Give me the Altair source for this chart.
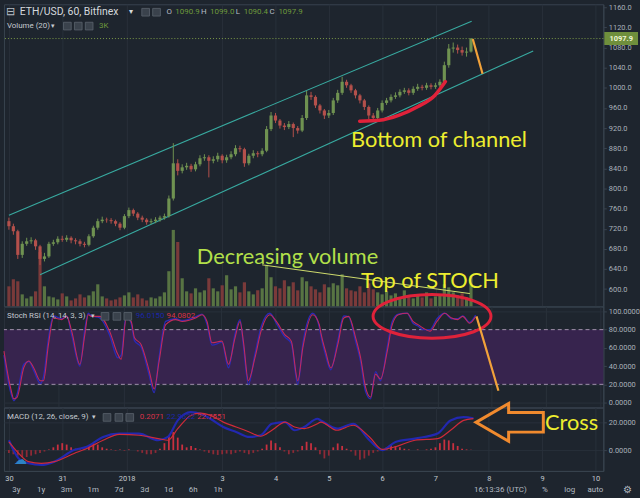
import altair as alt
import pandas as pd

# ------------------------------------------------------------------ data
# 2-hour candles, hour 0 = start of Dec 30
close = [725, 715, 668, 690, 695, 697, 685, 660, 665, 690,
         693, 700, 698, 702, 697, 695, 690, 688, 705, 722,
         735, 738, 737, 735, 730, 722, 745, 757, 750, 742,
         738, 733, 735, 738, 742, 745, 780, 850, 835, 842,
         845, 838, 848, 860, 862, 855, 858, 865, 856, 862,
         868, 880, 878, 850, 865, 870, 868, 875, 918, 945,
         935, 925, 922, 928, 920, 915, 940, 985, 982, 965,
         955, 945, 950, 975, 990, 1012, 1005, 995, 985, 975,
         962, 945, 940, 955, 970, 975, 982, 985, 992, 995,
         990, 998, 1002, 1000, 1005, 1002, 1005, 1012, 1045, 1078,
         1080, 1075, 1070, 1072, 1097.9]
first_open = 735
high = [742, 730, 718, 695, 702, 703, 700, 688, 672, 694,
        698, 705, 706, 707, 705, 701, 699, 694, 709, 726,
        740, 744, 742, 741, 738, 733, 749, 762, 760, 753,
        746, 741, 740, 743, 746, 750, 786, 890, 858, 848,
        851, 849, 853, 866, 868, 866, 864, 871, 868, 867,
        874, 886, 885, 881, 869, 876, 874, 880, 924, 952,
        950, 938, 930, 934, 931, 924, 946, 994, 992, 985,
        968, 958, 956, 980, 996, 1022, 1016, 1008, 998, 988,
        978, 965, 950, 960, 975, 980, 987, 991, 997, 1000,
        999, 1003, 1008, 1006, 1010, 1009, 1010, 1017, 1052, 1087,
        1090, 1086, 1082, 1080, 1099]
low = [718, 708, 660, 662, 686, 690, 678, 648, 655, 662,
       686, 689, 694, 694, 691, 689, 685, 683, 685, 702,
       718, 731, 732, 730, 725, 717, 719, 741, 745, 737,
       733, 728, 729, 731, 734, 738, 742, 776, 826, 830,
       837, 833, 834, 844, 855, 822, 850, 853, 850, 851,
       858, 864, 872, 843, 846, 860, 862, 864, 872, 914,
       930, 919, 916, 918, 902, 909, 912, 936, 976, 960,
       949, 938, 940, 946, 970, 986, 1000, 990, 979, 969,
       956, 938, 933, 936, 951, 966, 971, 978, 981, 988,
       985, 986, 994, 995, 996, 997, 998, 1001, 1008, 1040,
       1070, 1068, 1064, 1062, 1070]
volume_k = [2.0, 2.7, 2.5, 1.2, 0.8, 1.0, 1.5, 5.4, 2.0, 1.0,
            0.9, 0.7, 1.3, 1.0, 0.6, 0.8, 1.2, 0.9, 1.1, 1.5,
            2.2, 1.0, 0.8, 0.6, 0.7, 0.9, 1.1, 1.4, 0.9, 1.2,
            0.8, 0.6, 0.9, 0.8, 1.0, 1.4, 3.5, 7.6, 6.4, 2.8,
            1.5, 1.3, 1.8, 1.4, 1.6, 2.8, 1.8, 1.5, 2.1, 3.1,
            1.7, 2.0, 1.4, 2.4, 1.5, 1.2, 1.6, 1.8, 4.1, 2.9,
            2.0, 1.8, 2.6, 2.0, 2.4, 1.6, 2.9, 2.5, 2.0, 1.7,
            1.4, 2.2, 1.9, 2.3, 2.1, 3.2, 1.8, 1.6, 1.5, 2.0,
            1.4, 2.3, 1.7, 1.4, 1.2, 1.5, 1.1, 1.3, 0.9, 1.6,
            1.0, 0.8, 1.2, 0.9, 1.4, 0.8, 1.0, 1.2, 2.2, 1.9,
            1.4, 1.1, 1.3, 0.9, 3.0]
macd_hist = [-2, -3, -4, -5, -5, -4, -3, -2, -1, 0.5,
             2, 4, 5, 4, 2, 1, 0.5, 1, 3, 5,
             4, 2, 1, 0.5, -0.5, 0.5, -0.5, 0.5, 0, -1,
             -2, -3, -3, -2, 1, 5, 10, 13, 9, 4,
             2, 3, 1.5, 0.5, -1, -2, -3, -3.5, -3, -2.5,
             -3, -2, -1, -2, -3, -2, -1, 1, 4, 7,
             5, 2, -1, -3, -2, -1, 3, 6, 5, 2,
             -3, -6, -4, 2, 4.8, 3, 1, -1, -4, -7,
             -6, -4, -2, -1, 0.5, 2, 4, 3, 2, 1,
             0.5, 0, 0.5, 0, 0.5, 1, 2, 5, 7.6, 7,
             5, 3, 1, 0.5, 0.2071]

stoch_t = [0.0, 2.9, 4.4, 5.8, 8.8, 11.0, 13.2, 16.1, 17.5, 19.7,
           21.9, 25.6, 27.8, 30.0, 33.6, 35.8, 37.3, 38.7, 42.4, 46.8,
           50.4, 51.9, 54.1, 56.3, 57.8, 60.7, 64.3, 66.5, 68.7, 71.6,
           76.0, 78.9, 84.8, 87.7, 89.9, 92.1, 96.5, 99.4, 102.3, 104.5,
           106.0, 108.2, 111.1, 114.0, 117.7, 120.6, 124.3, 127.2, 130.1, 132.3,
           136.7, 139.6, 140.4, 142.5, 144.7, 147.8, 150.4, 152.6, 155.7, 157.9,
           160.1, 162.3, 164.5, 166.7, 169.7, 171.9, 174.6, 178.5, 181.1, 183.3,
           185.5, 188.6, 191.7, 195.2, 198.2, 200.9, 203.1, 206.1, 208.8]
stoch_k = [52, 12, 2, 9, 42, 45, 35, 21, 28, 70,
           95, 92, 95, 74, 40, 80, 98, 95, 93, 74,
           49, 52, 95, 87, 68, 61, 30, 11, 50, 89,
           92, 90, 94, 97, 86, 63, 66, 38, 75, 91,
           63, 20, 53, 84, 98, 87, 72, 65, 20, 64,
           98, 83, 72, 51, 36, 68, 95, 94, 67, 45,
           12, 4, 34, 24, 61, 89, 97, 98, 87, 84,
           80, 80, 92, 98, 92, 92, 95, 88, 96.0150]
stoch_d = [56.5, 16.6, 4, 5.8, 38.4, 45.6, 38, 23.9, 24, 63.8,
           92.7, 91, 94.6, 78, 42, 74.6, 96.4, 94.6, 94.6, 78,
           52.9, 47.5, 92.7, 89, 71, 63.8, 34.8, 14.9, 45.6, 85.5,
           91, 89, 92.7, 96.4, 89, 65.6, 67.4, 42, 71, 89,
           67, 24, 49, 80, 96.4, 89, 74.6, 67.4, 24, 60,
           96.4, 85.5, 75, 55, 38, 63.8, 92.7, 94.6, 71, 49,
           16.6, 5.8, 31.2, 25.8, 56.5, 85.5, 96.4, 98, 89, 85.5,
           81.9, 78.3, 89, 98, 92.7, 91, 94.6, 87, 94.0802]

macd_t = [0, 4.4, 8.8, 14.6, 20.5, 29.3, 35.1, 42.4, 49.7, 58.5,
          67.2, 71.6, 76.0, 81.9, 86.3, 90.7, 96.5, 102.3, 108.2, 113.3,
          118.4, 124.3, 128.6, 133.0, 138.9, 140.4, 147.7, 155.0, 162.3, 168.1,
          174.0, 182.8, 193.0, 198.8, 204.7, 209.1]
macd_line = [7.1, -6, -9.5, -10.7, -8.3, 0, 2.4, 9.5, 11.9, 11.9,
             7.1, 9.5, 21.4, 27.4, 26.2, 22.6, 16.7, 13.1, 9.5, 10.7,
             19, 20.2, 14.3, 16.7, 22.6, 21.4, 15.5, 19, 7.1, 0,
             5.9, 8.3, 11.9, 21.4, 23.8, 22.9622]
macd_signal = [5.9, -2.4, -8.3, -9.5, -8.3, -2.4, 1.2, 7.1, 11.4, 10.7,
               8.3, 7.1, 15.5, 25, 26.7, 25, 20.2, 16.7, 13.1, 10,
               14.3, 20.2, 16.7, 15.5, 19, 20.2, 14.3, 17.9, 9.5, 0.5,
               2.4, 7.1, 8.3, 14.3, 21.4, 22.7551]

price_ticks = [600, 640, 680, 720, 760, 800, 840, 880, 920, 960, 1000, 1040, 1080, 1120, 1160]
stoch_ticks = [0, 20, 40, 60, 80, 100]
macd_ticks = [0, 20]
day_ticks = [0, 24, 53, 96, 120, 144, 168, 192, 216, 240, 264]
day_labels = ["30", "31", "2018", "3", "4", "5", "6", "7", "8", "9", "10"]
header_ohlc = ["1090.9", "1099.0", "1090.4", "1097.9"]

# hand-drawn annotations (hours, value)
chan_up_t, chan_up_p = [0, 208.3], [746.6, 1132.4]
chan_lo_t, chan_lo_p = [14.0, 236.0], [628.5, 1073.4]
arc_t = [157.9, 166.7, 175.4, 184.2, 191.7, 196.5]
arc_p = [933.6, 935.6, 945.4, 963.1, 984.8, 1012.4]
orange_p_t, orange_p_v = [208.8, 213.2], [1097, 1028]
orange_s_t, orange_s_v = [209.2, 218.9], [94.6, 13.0]
decvol_t, decvol_p = [114.0, 207.5], [648.2, 591.1]

# ------------------------------------------------------------------ style
BG = "#1e252e"
GRID = "#28313b"
BORDER = "#39434f"
LABEL = "#a9b1ba"
UP, DOWN = "#6f9251", "#b4504b"
VUP, VDOWN = "#587443", "#7a3a3a"
TEAL = "#38aaa0"
YELLOW = "#eded2f"
LIME = "#b3e04a"
ORANGE = "#f2a23a"
ARROW = "#f08a2e"
RED_MARK = "#e0223a"
PURPLE = "#37244e"
GREEN_TXT = "#6e9a3c"
UI = "#c5cad0"
W, H_PRICE, H_STOCH, H_MACD = 605, 305, 102, 64

XS = alt.Scale(domain=[0, 265.35], nice=False, zero=False)
grid_axis = alt.Axis(values=day_ticks, labels=False, ticks=False, domain=False, grid=True, title=None)
label_expr = " : ".join(f"datum.value == {v} ? '{s}'" for v, s in zip(day_ticks, day_labels)) + " : ''"
time_axis = alt.Axis(values=day_ticks, labelExpr=label_expr, grid=True, ticks=False, domain=True,
                     title=None, labelPadding=4, labelColor="#c3c9cf", labelFontSize=7.5)


def xenc(field, axis):
    return alt.X(field, type="quantitative", scale=XS, axis=axis)


def ui_text(items, align="left"):
    df = pd.DataFrame(items, columns=["txt", "px", "py", "col", "fs"])
    return alt.Chart(df).mark_text(align=align, baseline="middle", font="Roboto").encode(
        x=alt.X("px:Q", scale=None, axis=None),
        y=alt.Y("py:Q", scale=None, axis=None),
        text="txt:N",
        color=alt.Color("col:N", scale=None),
        size=alt.Size("fs:Q", scale=None),
    )


def ui_icons(points):
    df = pd.DataFrame(points, columns=["px", "py"])
    return alt.Chart(df).mark_square(size=60, color="#3a424c", stroke="#5b646e",
                                     strokeWidth=0.8, filled=True, opacity=1).encode(
        x=alt.X("px:Q", scale=None, axis=None),
        y=alt.Y("py:Q", scale=None, axis=None),
    )


# ------------------------------------------------------------------ price pane
YP = alt.Scale(domain=[565.5, 1166], nice=False, zero=False)
price_axis = alt.Axis(orient="right", values=price_ticks, format=".1f", title=None, tickSize=3, labelPadding=2)


def yp(field):
    return alt.Y(field, type="quantitative", scale=YP, axis=price_axis)


opens = [first_open] + close[:-1]
cdf = pd.DataFrame({"t": [2 * i for i in range(len(close))], "o": opens, "c": close,
                    "h": high, "l": low, "v": volume_k})
candle_col = alt.condition("datum.c >= datum.o", alt.value(UP), alt.value(DOWN))
vol_col = alt.condition("datum.c >= datum.o", alt.value(VUP), alt.value(VDOWN))

vol = alt.Chart(cdf).mark_bar(size=3.2).encode(
    x=xenc("t", grid_axis),
    y=alt.Y("v:Q", scale=alt.Scale(domain=[0, 30], nice=False), axis=None),
    color=vol_col)

chdf = pd.DataFrame({"t": chan_up_t + chan_lo_t, "p": chan_up_p + chan_lo_p,
                     "g": ["up", "up", "lo", "lo"]})
channel = alt.Chart(chdf).mark_line(color=TEAL, strokeWidth=1.1).encode(
    x=xenc("t", grid_axis), y=yp("p"), detail="g:N")
wicks = alt.Chart(cdf).mark_rule(strokeWidth=1).encode(
    x=xenc("t", grid_axis), y=yp("l"), y2="h", color=candle_col)
bodies = alt.Chart(cdf).mark_bar(size=3.2).encode(
    x=xenc("t", grid_axis), y=yp("o"), y2="c", color=candle_col)
last_df = pd.DataFrame({"p": [close[-1]]})
price_line = alt.Chart(last_df).mark_rule(color="#7d9c48", strokeDash=[1, 2], strokeWidth=1).encode(y=yp("p"))
decvol = alt.Chart(pd.DataFrame({"t": decvol_t, "p": decvol_p})).mark_line(
    color="#cfdc6c", strokeWidth=1).encode(x=xenc("t", grid_axis), y=yp("p"))
arc = alt.Chart(pd.DataFrame({"t": arc_t, "p": arc_p})).mark_line(
    color=RED_MARK, strokeWidth=3.5, interpolate="monotone", strokeCap="round").encode(
    x=xenc("t", grid_axis), y=yp("p"))
orange_p = alt.Chart(pd.DataFrame({"t": orange_p_t, "p": orange_p_v})).mark_line(
    color=ORANGE, strokeWidth=2.2).encode(x=xenc("t", grid_axis), y=yp("p"))
ann_y = alt.Chart(pd.DataFrame({"txt": ["Bottom of channel", "Top of STOCH"],
                                "t": [193.6, 189.5], "p": [881.9, 601.5]})).mark_text(
    font="Lato", fontSize=22, color=YELLOW, align="center", baseline="alphabetic").encode(
    x=xenc("t", grid_axis), y=yp("p"), text="txt:N")
ann_l = alt.Chart(pd.DataFrame({"txt": ["Decreasing volume"], "t": [125.4], "p": [650.2]})).mark_text(
    font="Lato", fontSize=22, color=LIME, align="center", baseline="alphabetic").encode(
    x=xenc("t", grid_axis), y=yp("p"), text="txt:N")
tag = alt.Chart(last_df).mark_tick(color="#6f8f3c", thickness=13, size=34, opacity=1).encode(
    x=alt.value(623), y=yp("p"))
tag_txt = alt.Chart(last_df).mark_text(color="#eef6d6", fontSize=7.5, fontWeight="bold",
                                       font="Roboto").encode(
    x=alt.value(623), y=yp("p"), text=alt.value(f"{close[-1]:.1f}"))

price_inner = alt.layer(channel, wicks, bodies, decvol, price_line, arc, orange_p,
                        ann_l, ann_y, tag, tag_txt)

hdr = ui_text([
    ("⊟", 2, 8, "#b7bec6", 11),
    ("ETH/USD, 60, Bitfinex", 16, 8, "#d5d9dd", 10.5),
    ("▾", 126, 8, "#d5d9dd", 8),
    ("O", 164, 8, "#b7bec6", 8), (header_ohlc[0], 173, 8, GREEN_TXT, 8),
    ("H", 199, 8, "#b7bec6", 8), (header_ohlc[1], 208, 8, GREEN_TXT, 8),
    ("L", 234, 8, "#b7bec6", 8), (header_ohlc[2], 242, 8, GREEN_TXT, 8),
    ("C", 268, 8, "#b7bec6", 8), (header_ohlc[3], 277, 8, GREEN_TXT, 8),
    ("Volume (20)", 3, 22, UI, 8), ("▾", 47, 22, UI, 7),
    (f"{volume_k[-1]:.0f}K", 96, 22, GREEN_TXT, 8),
])
hdr_icons = ui_icons([(143, 8), (154, 8), (64, 22), (75, 22), (86, 22)])

price = alt.layer(vol, price_inner, hdr, hdr_icons).resolve_scale(y="independent").properties(
    width=W, height=H_PRICE)

# ------------------------------------------------------------------ stoch pane
YS = alt.Scale(domain=[-5.43, 105.43], nice=False, zero=False)
stoch_axis = alt.Axis(orient="right", values=stoch_ticks, format=".4f", title=None, tickSize=3, labelPadding=2)


def ys(field):
    return alt.Y(field, type="quantitative", scale=YS, axis=stoch_axis)


band = alt.Chart(pd.DataFrame({"t0": [0.0], "t1": [265.35], "lo": [20], "hi": [80]})).mark_rect(
    color=PURPLE).encode(x=xenc("t0", grid_axis), x2="t1", y=ys("lo"), y2="hi")
levels = alt.Chart(pd.DataFrame({"lvl": [20, 80]})).mark_rule(
    color="#a393ad", strokeDash=[4, 3], strokeWidth=1).encode(y=ys("lvl"))
sdf = pd.DataFrame({"t": stoch_t, "k": stoch_k, "d": stoch_d})
k_line = alt.Chart(sdf).mark_line(color="#2a2ab4", strokeWidth=1.4, interpolate="monotone").encode(
    x=xenc("t", grid_axis), y=ys("k"))
d_line = alt.Chart(sdf).mark_line(color="#c22a5c", strokeWidth=1.1, interpolate="monotone").encode(
    x=xenc("t", grid_axis), y=ys("d"))
ELLIPSE = ("M -1 0 C -1 -0.204 -0.552 -0.37 0 -0.37 C 0.552 -0.37 1 -0.204 1 0 "
           "C 1 0.204 0.552 0.37 0 0.37 C -0.552 0.37 -1 0.204 -1 0 Z")
ellipse = alt.Chart(pd.DataFrame({"t": [189.5], "v": [94.6]})).mark_point(
    shape=ELLIPSE, size=14161, filled=False, color=RED_MARK, strokeWidth=3, opacity=1).encode(
    x=xenc("t", grid_axis), y=ys("v"))
orange_s = alt.Chart(pd.DataFrame({"t": orange_s_t, "v": orange_s_v})).mark_line(
    color=ORANGE, strokeWidth=2.2).encode(x=xenc("t", grid_axis), y=ys("v"))
stoch_leg = ui_text([
    ("Stoch RSI (14, 14, 3, 3)", 3, 10, UI, 8), ("▾", 88, 10, UI, 7),
    (f"{stoch_k[-1]:.4f}", 133, 10, "#1d25a8", 8),
    (f"{stoch_d[-1]:.4f}", 164, 10, "#d8324a", 8),
])
stoch_icons = ui_icons([(102, 10), (114, 10), (125, 10)])

stoch = alt.layer(band, levels, k_line, d_line, ellipse, orange_s, stoch_leg, stoch_icons).properties(
    width=W, height=H_STOCH)

# ------------------------------------------------------------------ macd pane
YM = alt.Scale(domain=[-15, 30.7], nice=False, zero=False)
macd_axis = alt.Axis(orient="right", values=macd_ticks, format=".4f", title=None, tickSize=3, labelPadding=2)


def ym(field):
    return alt.Y(field, type="quantitative", scale=YM, axis=macd_axis)


hdf = pd.DataFrame({"t": [2 * i for i in range(len(macd_hist))], "hist": macd_hist})
hist = alt.Chart(hdf).transform_calculate(base="0").mark_bar(size=1.8).encode(
    x=xenc("t", time_axis), y=ym("hist"), y2="base:Q",
    color=alt.condition("datum.hist >= 0", alt.value("#c8303f"), alt.value("#8e2a36")))
mdf = pd.DataFrame({"t": macd_t, "m": macd_line, "s": macd_signal})
m_line = alt.Chart(mdf).mark_line(color="#2228b0", strokeWidth=2.2, interpolate="monotone").encode(
    x=xenc("t", time_axis), y=ym("m"))
s_line = alt.Chart(mdf).mark_line(color="#d02a3a", strokeWidth=1.2, interpolate="monotone").encode(
    x=xenc("t", time_axis), y=ym("s"))
ARROW_PATH = "M -1 0 L -0.03 -0.56 L -0.03 -0.29 L 1 -0.29 L 1 0.29 L -0.03 0.29 L -0.03 0.56 Z"
arrow = alt.Chart(pd.DataFrame({"t": [225.4], "v": [20.0]})).mark_point(
    shape=ARROW_PATH, size=4624, filled=False, color=ARROW, strokeWidth=3, opacity=1).encode(
    x=xenc("t", time_axis), y=ym("v"))
cross = alt.Chart(pd.DataFrame({"txt": ["Cross"], "t": [253.3], "v": [14.3]})).mark_text(
    font="Lato", fontSize=22, color=YELLOW, align="center", baseline="alphabetic").encode(
    x=xenc("t", time_axis), y=ym("v"), text="txt:N")
macd_leg = ui_text([
    ("MACD (12, 26, close, 9)", 3, 10, UI, 8), ("▾", 89, 10, UI, 7),
    (f"{macd_hist[-1]:.4f}", 137, 10, "#d8324a", 8),
    (f"{macd_line[-1]:.4f}", 164, 10, "#1d25a8", 8),
    (f"{macd_signal[-1]:.4f}", 195, 10, "#d8324a", 8),
    ("☁", 10, 53, "#2d84c6", 13),
])
macd_icons = ui_icons([(104, 10), (116, 10), (127, 10)])
toolbar_l = ui_text([(s, x, 83, "#b4bbc2", 8) for s, x in zip(
    ["3y", "1y", "3m", "1m", "7d", "3d", "1d", "6h", "1h"],
    [12.5, 37.5, 63, 90, 116, 142, 166, 191, 216])], align="center")
toolbar_r = ui_text([("16:13:36 (UTC)", 501, 83, "#b4bbc2", 8), ("%", 546, 83, "#b4bbc2", 8),
                     ("log", 571, 83, "#b4bbc2", 8), ("auto", 597, 83, "#b4bbc2", 8),
                     ("⚙", 629, 83, "#b4bbc2", 10)], align="center")

macd = alt.layer(hist, m_line, s_line, arrow, cross, macd_leg, macd_icons, toolbar_l, toolbar_r).properties(
    width=W, height=H_MACD)

# ------------------------------------------------------------------ assemble
chart = alt.vconcat(price, stoch, macd, spacing=0, bounds="flush").properties(
    background=BG, padding=0
).configure_view(stroke=BORDER, strokeWidth=1).configure_axis(
    gridColor=GRID, domainColor=BORDER, tickColor=BORDER, labelColor=LABEL,
    labelFont="Roboto", labelFontSize=7.5)

chart.save("out.html", embed_options={"renderer": "svg", "actions": False})
